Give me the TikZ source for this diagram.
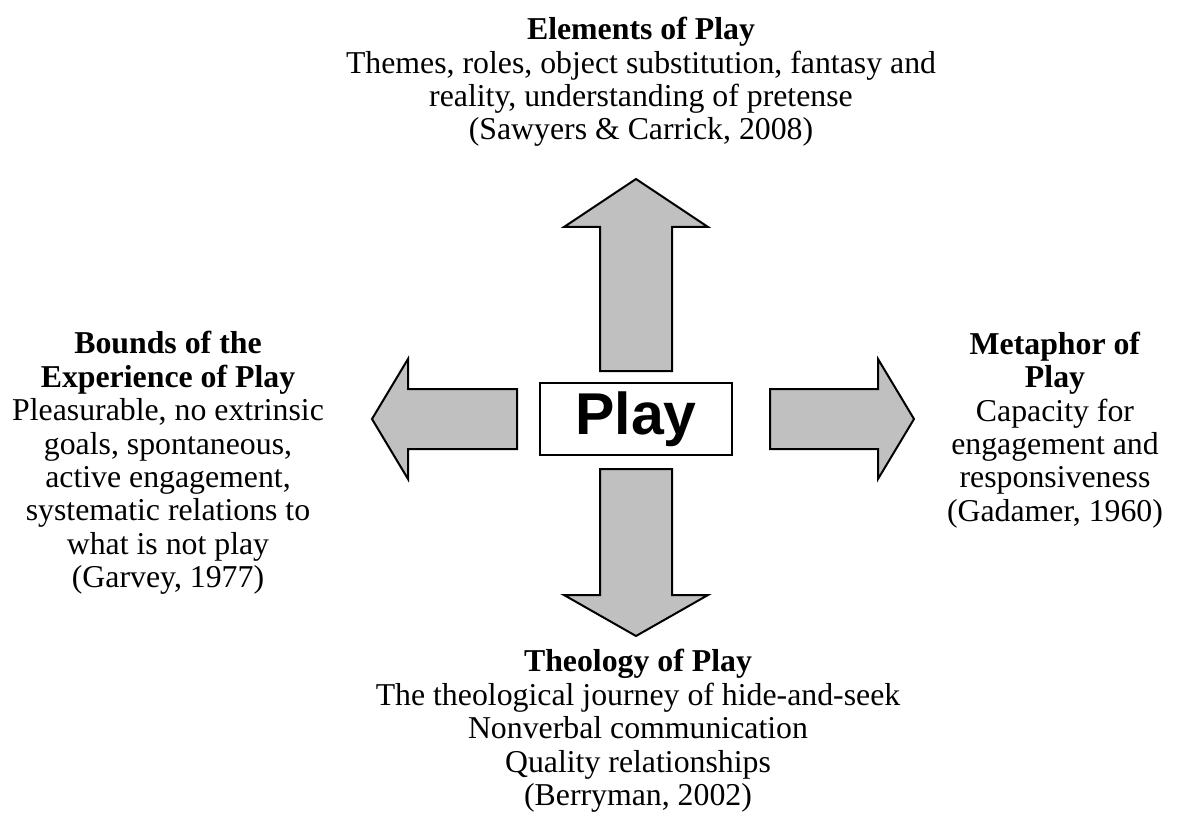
\documentclass[tikz,border=0pt]{standalone}
\usepackage{fontspec}
\setmainfont{Liberation Serif}
\newfontfamily\boxfont{Liberation Sans}
\definecolor{arrowgray}{RGB}{192,192,192}

\tikzset{
  blockarrow/.style={draw=black,fill=arrowgray,line width=1pt,line join=miter},
  playbox/.style={draw=black,line width=0.9pt,minimum width=96pt,minimum height=36pt,
                  font=\boxfont\bfseries\fontsize{29.5}{32}\selectfont},
  desc/.style={align=center,inner sep=0pt,font=\fontsize{15.9}{16.7}\selectfont}
}

\begin{document}
\begin{tikzpicture}[x=0.5pt,y=-0.5pt]
    \useasboundingbox (0,0) rectangle (1187,828);

    % centre box
    \node[playbox] (play) at (636,419) {Play};

    % the four block arrows
    \draw[blockarrow] (600,371) -- (600,227) -- (564,227) -- (636,179) -- (708,227) -- (672,227) -- (672,371) -- cycle;
    \draw[blockarrow] (600,469) -- (600,595) -- (564,595) -- (636,636) -- (708,595) -- (672,595) -- (672,469) -- cycle;
    \draw[blockarrow] (517,389) -- (408,389) -- (408,359) -- (372,419) -- (408,479) -- (408,449) -- (517,449) -- cycle;
    \draw[blockarrow] (770,389) -- (878,389) -- (878,359) -- (914,419) -- (878,479) -- (878,449) -- (770,449) -- cycle;

    % texts
    \node[desc] (elements) at (641,82) {\textbf{Elements of Play}\\Themes, roles, object substitution, fantasy and\\reality, understanding of pretense\\(Sawyers \& Carrick, 2008)};
    \node[desc] (bounds) at (168,463) {\textbf{Bounds of the}\\\textbf{Experience of Play}\\Pleasurable, no extrinsic\\goals, spontaneous,\\active engagement,\\systematic relations to\\what is not play\\(Garvey, 1977)};
    \node[desc] (metaphor) at (1055,430) {\textbf{Metaphor of}\\\textbf{Play}\\Capacity for\\engagement and\\responsiveness\\(Gadamer, 1960)};
    \node[desc] (theology) at (638,731) {\textbf{Theology of Play}\\The theological journey of hide-and-seek\\Nonverbal communication\\Quality relationships\\(Berryman, 2002)};

\end{tikzpicture}
\end{document}
